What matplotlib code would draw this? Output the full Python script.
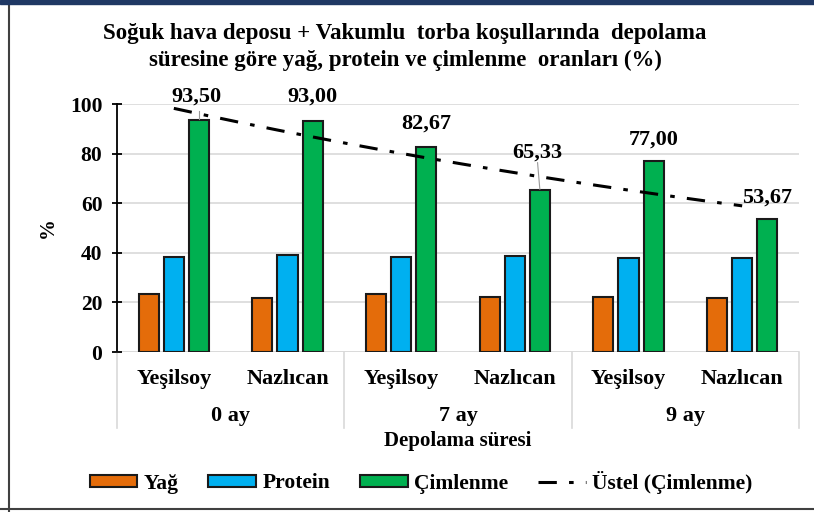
import numpy as np
import matplotlib
matplotlib.use('Agg')
from matplotlib import pyplot as plt
from matplotlib.patches import Patch, Rectangle
from matplotlib.lines import Line2D

plt.rcParams['font.family'] = ['Liberation Serif', 'DejaVu Serif']
plt.rcParams['font.weight'] = 'bold'

varieties = ['Yeşilsoy', 'Nazlıcan', 'Yeşilsoy', 'Nazlıcan', 'Yeşilsoy', 'Nazlıcan']
periods = ['0 ay', '7 ay', '9 ay']
yag = [23.2, 21.6, 23.2, 22.2, 22.2, 21.6]
protein = [38.2, 39.0, 38.4, 38.6, 37.8, 37.8]
cimlenme = [93.50, 93.00, 82.67, 65.33, 77.00, 53.67]

colors = {'Yağ': '#E46C0A', 'Protein': '#00B0F0', 'Çimlenme': '#00B050'}
FS = 15.5

fig = plt.figure(figsize=(8.14, 5.12), dpi=100)
ax = fig.add_axes([117 / 814, 160 / 512, 682 / 814, 248 / 512])

x = np.arange(len(varieties))
w = 0.176
step = 0.22
ax.bar(x - step, yag, w, color=colors['Yağ'], edgecolor='#1a1a1a', linewidth=1.5, zorder=3)
ax.bar(x, protein, w, color=colors['Protein'], edgecolor='#1a1a1a', linewidth=1.5, zorder=3)
ax.bar(x + step, cimlenme, w, color=colors['Çimlenme'], edgecolor='#1a1a1a', linewidth=1.5, zorder=3)

# exponential trendline (Excel "Üstel") for Çimlenme
b, ln_a = np.polyfit(x + 1, np.log(cimlenme), 1)
xs = np.linspace(0, len(x) - 1, 200)
ax.plot(xs, np.exp(ln_a + b * (xs + 1)), color='black', linewidth=2.2,
        linestyle=(0, (6, 4, 1.5, 4)), zorder=4)

# data labels on Çimlenme bars
offsets = [9.5, 10, 9.5, 15, 8.5, 8.5]
for i, v in enumerate(cimlenme):
    lx = x[i] + step - (0.02 if i in (0, 3) else 0)
    ly = v + offsets[i]
    ax.text(lx, ly, f'{v:.2f}'.replace('.', ','), ha='center', va='center',
            fontsize=16, fontweight='bold', zorder=5)
    if i == 0:
        ax.plot([x[i] + step, x[i] + step], [v + 0.3, v + 3.5], color='#999999', lw=0.8, zorder=5)
    if i == 3:
        ax.plot([x[i] + step - 0.02, x[i] + step], [v + 11.0, v + 0.3], color='#999999', lw=0.8, zorder=5)

ax.set_xlim(-0.5, len(x) - 0.5)
ax.set_ylim(0, 100)
ax.set_yticks(range(0, 101, 20))
ax.tick_params(axis='y', direction='inout', length=7, width=1.3, labelsize=FS, pad=7)
ax.set_xticks([])
ax.grid(axis='y', color='#D9D9D9', linewidth=1.2, zorder=0)
for side in ['top', 'right', 'bottom']:
    ax.spines[side].set_visible(False)
ax.spines['left'].set_linewidth(1.3)
ax.axhline(0, color='#D9D9D9', linewidth=1.2, zorder=1)
for lab in ax.get_yticklabels():
    lab.set_fontweight('bold')

# two-level category axis
tr = ax.get_xaxis_transform()
for i, name in enumerate(varieties):
    ax.text(x[i], -0.11, name, transform=tr, ha='center', va='center', fontsize=16, fontweight='bold')
for g, name in enumerate(periods):
    ax.text(2 * g + 0.5, -0.258, name, transform=tr, ha='center', va='center', fontsize=16, fontweight='bold')
for sep in [-0.5, 1.5, 3.5, 5.5]:
    ax.plot([sep, sep], [0, -0.305], transform=tr, color='#D9D9D9', lw=1.2, clip_on=False)

ax.text(0.5, -0.36, 'Depolama süresi', transform=ax.transAxes, ha='center', va='center',
        fontsize=15, fontweight='bold')
ax.set_ylabel('%', fontsize=15, fontweight='bold', labelpad=9)

fig.text(0.4975, 1 - 33 / 512, 'Soğuk hava deposu + Vakumlu  torba koşullarında  depolama',
         ha='center', va='center', fontsize=16.5, fontweight='bold')
fig.text(0.4975, 1 - 60 / 512, 'süresine göre yağ, protein ve çimlenme  oranları (%)',
         ha='center', va='center', fontsize=16.5, fontweight='bold')

handles = [Patch(facecolor=colors['Yağ'], edgecolor='#1a1a1a', linewidth=1.5),
           Patch(facecolor=colors['Protein'], edgecolor='#1a1a1a', linewidth=1.5),
           Patch(facecolor=colors['Çimlenme'], edgecolor='#1a1a1a', linewidth=1.5),
           Line2D([0], [0], color='black', linewidth=2.2, linestyle=(0, (6, 4, 1.5, 4)))]
fig.legend(handles, ['Yağ', 'Protein', 'Çimlenme', 'Üstel (Çimlenme)'], loc='center',
           bbox_to_anchor=(421 / 814, 1 - 482 / 512), ncol=4, frameon=False, fontsize=FS,
           handlelength=2.2, handleheight=0.5, columnspacing=1.4, handletextpad=0.3)

# frame of the picture
fig.add_artist(Rectangle((0, 1 - 4 / 512), 1, 4 / 512, transform=fig.transFigure,
                         color='#1F3864', zorder=10))
fig.add_artist(Line2D([9 / 814, 9 / 814], [0, 1], transform=fig.transFigure, color='#404040', lw=1.5))
fig.add_artist(Line2D([0, 1], [3 / 512, 3 / 512], transform=fig.transFigure, color='#404040', lw=1.5))

fig.savefig('out.png', dpi=100)
